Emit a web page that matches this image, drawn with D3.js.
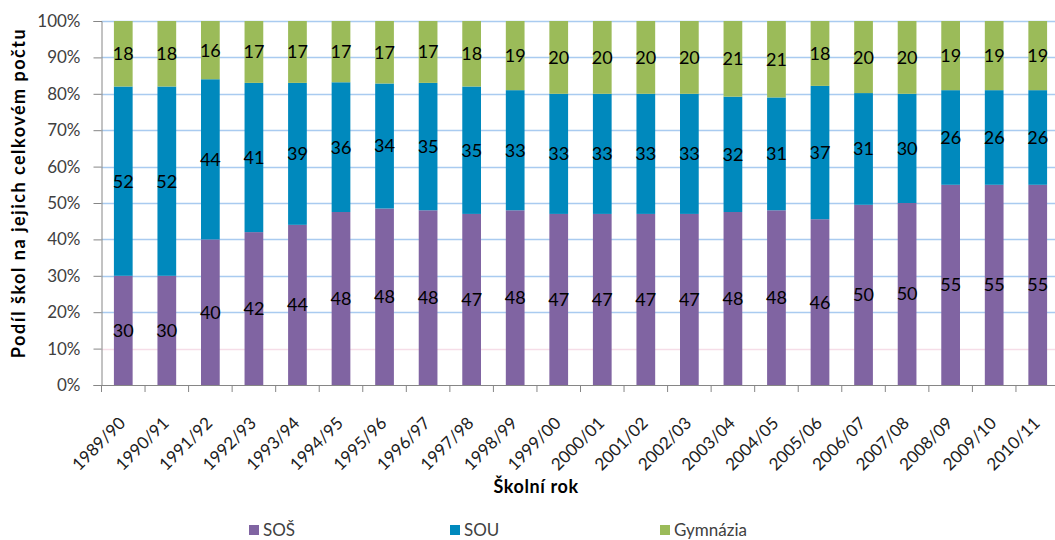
<!DOCTYPE html>
<html><head><meta charset="utf-8">
<script src="https://cdn.jsdelivr.net/npm/d3@7"></script>
<style>
html,body{margin:0;padding:0;background:#fff;}
svg{display:block;font-family:Lato, "Open Sans", sans-serif;}
</style></head>
<body>
<svg id="chart" width="1055" height="540"></svg>
<script>
const categories = ["1989/90","1990/91","1991/92","1992/93","1993/94","1994/95","1995/96","1996/97","1997/98","1998/99","1999/00","2000/01","2001/02","2002/03","2003/04","2004/05","2005/06","2006/07","2007/08","2008/09","2009/10","2010/11"];
const sosValues = [30,30,40,42,44,48,48,48,47,48,47,47,47,47,48,48,46,50,50,55,55,55];
const souValues = [52,52,44,41,39,36,34,35,35,33,33,33,33,33,32,31,37,31,30,26,26,26];
const gymValues = [18,18,16,17,17,17,17,17,18,19,20,20,20,20,21,21,18,20,20,19,19,19];
const seriesNames = ["SOŠ","SOU","Gymnázia"];
const seriesColors = ["#8064a2","#0089bd","#9bbb59"];
const yTicks = [0,0.1,0.2,0.3,0.4,0.5,0.6,0.7,0.8,0.9,1.0];

const svg = d3.select("#chart");
const pLeft = 101.5, pRight = 1059.5, pTop = 21, pBottom = 385;

const rows = categories.map((c,i)=>({cat:c, "SOŠ":sosValues[i], "SOU":souValues[i], "Gymnázia":gymValues[i]}));
const stack = d3.stack().keys(seriesNames).offset(d3.stackOffsetExpand);
const stacked = stack(rows);

const x = d3.scaleBand().domain(categories).range([pLeft,pRight]).paddingInner(0.57).paddingOuter(0.285);
const xTick = d3.scaleBand().domain(categories).range([pLeft,pRight]);
const y = d3.scaleLinear().domain([0,1]).range([pBottom,pTop]);

// gridlines
svg.append("g").selectAll("line").data(yTicks.filter(t=>t>0)).join("line")
  .attr("x1",pLeft).attr("x2",1055)
  .attr("y1",d=>Math.round(y(d))+0.5).attr("y2",d=>Math.round(y(d))+0.5)
  .attr("stroke",d=>Math.abs(d-0.1)<1e-9?"#f6dde8":"#a9cbf0").attr("stroke-width",1.3);

// bars
const layers = svg.append("g").selectAll("g").data(stacked).join("g")
  .attr("fill",(d,i)=>seriesColors[i]);
layers.selectAll("rect").data(d=>d).join("rect")
  .attr("x",d=>x(d.data.cat))
  .attr("width",x.bandwidth())
  .attr("y",d=>y(d[1]))
  .attr("height",d=>y(d[0])-y(d[1]));

// data labels
const lbl = svg.append("g").attr("font-size",18).attr("fill","#000").attr("text-anchor","middle");
stacked.forEach((layer,si)=>{
  lbl.selectAll(null).data(layer).join("text")
    .attr("x",d=>x(d.data.cat)+x.bandwidth()/2)
    .attr("y",d=>y((d[0]+d[1])/2))
    .attr("dy","0.36em")
    .text(d=>d.data[seriesNames[si]]);
});

// y axis
const yAxis = d3.axisLeft(y).tickValues(yTicks).tickFormat(d3.format(".0%")).tickSize(8).tickPadding(13);
const gy = svg.append("g").attr("transform",`translate(${pLeft},0)`).call(yAxis);
gy.select(".domain").attr("stroke","#868686");
gy.selectAll(".tick line").attr("stroke","#868686");
gy.selectAll(".tick text").attr("font-size",17).attr("fill","#404040").attr("font-family","Lato, sans-serif");

// x axis
const xAxis = d3.axisBottom(xTick).tickSize(0).tickFormat(d=>d);
const gx = svg.append("g").attr("transform",`translate(0,${pBottom})`).call(xAxis);
gx.select(".domain").attr("stroke","#868686");
gx.selectAll(".tick text")
  .attr("font-size",17).attr("fill","#202020").attr("font-family","Lato, sans-serif")
  .attr("text-anchor","end")
  .attr("transform","translate(-1,35) rotate(-45)")
  .attr("dy","0.35em").attr("y",0).attr("x",0);
// x tick marks at category boundaries
svg.append("g").selectAll("line").data(d3.range(categories.length+1)).join("line")
  .attr("x1",i=>pLeft+i*xTick.step()).attr("x2",i=>pLeft+i*xTick.step())
  .attr("y1",pBottom).attr("y2",pBottom+7).attr("stroke","#868686");

// axis titles
svg.append("text").attr("x",536).attr("y",493).attr("text-anchor","middle")
  .attr("font-size",18).attr("font-weight","bold").attr("letter-spacing",0.6).attr("fill","#000").text("Školní rok");
svg.append("text").attr("transform","translate(25,193) rotate(-90)").attr("text-anchor","middle")
  .attr("font-size",18).attr("font-weight","bold").attr("letter-spacing",1.5).attr("fill","#000").text("Podíl škol na jejich celkovém počtu");

// legend
const legendX = [249,450,660];
const lg = svg.append("g");
seriesNames.forEach((n,i)=>{
  lg.append("rect").attr("x",legendX[i]).attr("y",525).attr("width",10).attr("height",10).attr("fill",seriesColors[i]);
  lg.append("text").attr("x",legendX[i]+14).attr("y",536).attr("font-size",17).attr("fill","#404040").text(n);
});
</script>
</body></html>
